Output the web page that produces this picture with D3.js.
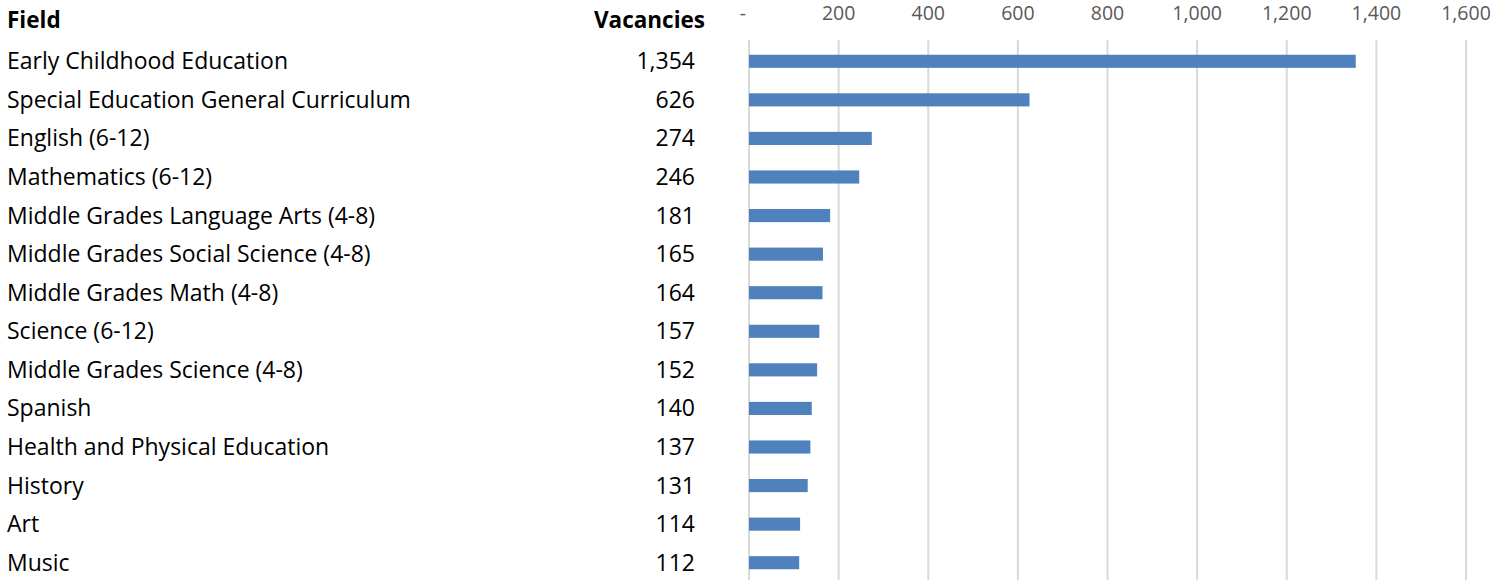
<!DOCTYPE html>
<html>
<head>
<meta charset="utf-8">
<script src="https://cdn.jsdelivr.net/npm/d3@7"></script>
<style>
  body { margin:0; background:#fff; }
  text { font-family: "Open Sans", sans-serif; }
</style>
</head>
<body>
<div class="canvas"></div>
<script>
//DIMENSIONS
var w = 1512;
var h = 580;

//DATA
const fields = ['Early Childhood Education', 'Special Education General Curriculum', 'English (6-12)',
  'Mathematics (6-12)', 'Middle Grades Language Arts (4-8)', 'Middle Grades Social Science (4-8)',
  'Middle Grades Math (4-8)', 'Science (6-12)', 'Middle Grades Science (4-8)', 'Spanish',
  'Health and Physical Education', 'History', 'Art', 'Music'];
const vacancies = [1354, 626, 274, 246, 181, 165, 164, 157, 152, 140, 137, 131, 114, 112];
const ticks = [0, 200, 400, 600, 800, 1000, 1200, 1400, 1600];

const svg = d3.select('.canvas').append('svg')
  .attr('width', w)
  .attr('height', h);

//SCALES
var x = d3.scaleLinear().domain([0, 1600]).range([749, 1466]);
var y = d3.scaleBand().domain(fields).range([42, 582]).paddingInner(0.66).paddingOuter(0.33);

var fmt = d3.format(',');

//GRIDLINES
svg.append('g')
  .selectAll('line')
  .data(ticks)
  .enter().append('line')
    .attr('x1', d => x(d)).attr('x2', d => x(d))
    .attr('y1', 40).attr('y2', h)
    .attr('stroke', '#d9d9d9')
    .attr('stroke-width', 2);

//AXIS LABELS
svg.append('g')
  .selectAll('text')
  .data(ticks)
  .enter().append('text')
    .attr('x', d => d === 0 ? x(d) - 6 : x(d))
    .attr('y', 20)
    .attr('text-anchor', 'middle')
    .attr('fill', '#595959')
    .style('font-size', '19.5px')
    .text(d => d === 0 ? '-' : fmt(d));

//BARS
svg.append('g')
  .selectAll('rect')
  .data(fields)
  .enter().append('rect')
    .attr('x', x(0))
    .attr('y', d => y(d))
    .attr('width', (d, i) => x(vacancies[i]) - x(0))
    .attr('height', y.bandwidth())
    .attr('fill', '#4f81bd');

//HEADERS
svg.append('text')
  .attr('x', 7).attr('y', 28)
  .style('font-size', '22.5px').style('font-weight', 'bold')
  .text('Field');
svg.append('text')
  .attr('x', 705).attr('y', 28)
  .attr('text-anchor', 'end')
  .style('font-size', '22.5px').style('font-weight', 'bold')
  .text('Vacancies');

//ROW LABELS
var rows = svg.append('g')
  .selectAll('g')
  .data(fields)
  .enter().append('g')
    .attr('transform', d => 'translate(0,' + (y(d) + y.bandwidth() / 2 + 8) + ')');

rows.append('text')
  .attr('x', 7)
  .style('font-size', '23px')
  .attr('fill', '#000')
  .text(d => d);

rows.append('text')
  .attr('x', 695)
  .attr('text-anchor', 'end')
  .style('font-size', '23px')
  .text((d, i) => fmt(vacancies[i]));
</script>
</body>
</html>
